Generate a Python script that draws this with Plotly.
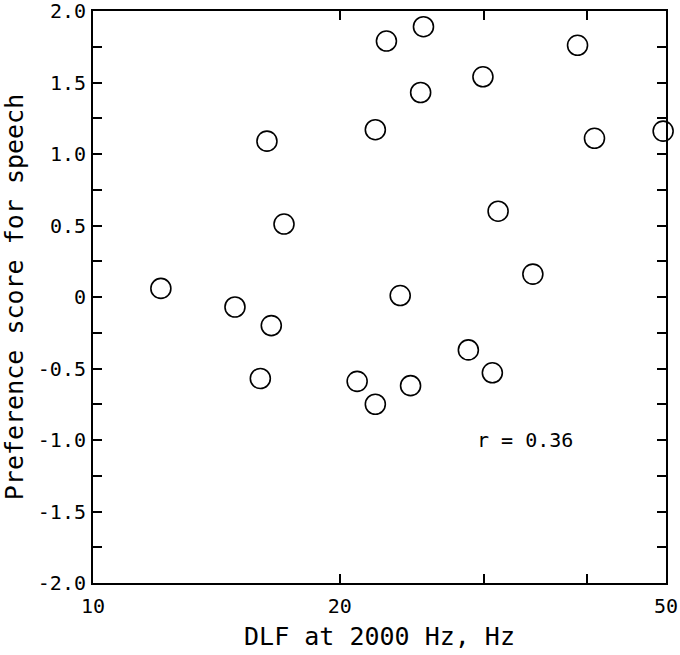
'''Preference score for speech vs DLF at 2000 Hz'''
import math
import plotly.graph_objects as go

# data
dlf = [12.1, 14.9, 16.0, 16.3, 16.5, 17.1, 21.0, 22.1, 22.1, 22.8, 23.7,
       24.4, 25.1, 25.3, 28.7, 29.9, 30.7, 31.2, 34.4, 39.0, 40.9, 49.6]
pref = [0.06, -0.07, -0.57, 1.09, -0.20, 0.51, -0.59, -0.75, 1.17, 1.79, 0.01,
        -0.62, 1.43, 1.89, -0.37, 1.54, -0.53, 0.60, 0.16, 1.76, 1.11, 1.16]

x_ticks = [10, 20, 30, 40, 50]
x_text = ["10", "20", "", "", "50"]
y_ticks = [-2.0 + 0.25 * i for i in range(17)]
y_text = []
for v in y_ticks:
    if abs(v * 2 - round(v * 2)) < 1e-9:
        y_text.append("0" if abs(v) < 1e-9 else "%.1f" % v)
    else:
        y_text.append("")

r_text = "r = 0.36"
r_pos = (29.2, -1.0)

FONT = "DejaVu Sans Mono"

fig = go.Figure()
fig.add_trace(go.Scatter(
    x=dlf, y=pref, mode="markers", cliponaxis=False,
    marker=dict(symbol="circle-open", size=20, color="black",
                line=dict(width=1.6, color="black")),
    showlegend=False,
))

# log axis: annotation x is given in log10 units
fig.add_annotation(x=math.log10(r_pos[0]), y=r_pos[1], xref="x", yref="y",
                   text=r_text, showarrow=False, xanchor="left",
                   yanchor="middle",
                   font=dict(family=FONT, size=20, color="black"))

axis_common = dict(
    showgrid=False, zeroline=False, showline=True, linecolor="black",
    linewidth=2, ticks="inside", ticklen=9, tickwidth=1.5, tickcolor="black",
    mirror="ticks", automargin=False, ticklabeloverflow="allow",
    tickfont=dict(family=FONT, size=20, color="black"),
)

fig.update_layout(
    width=680, height=655,
    paper_bgcolor="white", plot_bgcolor="white",
    margin=dict(l=93, r=14, t=11, b=72),
    xaxis=dict(type="log", range=[1, 1.69897], tickvals=x_ticks,
               ticktext=x_text, ticklabelstandoff=4,
               title=dict(text="DLF at 2000 Hz, Hz", standoff=10,
                          font=dict(family=FONT, size=25, color="black")),
               **axis_common),
    yaxis=dict(range=[-2, 2], tickvals=y_ticks, ticktext=y_text,
               ticklabelstandoff=1,
               title=dict(text="Preference score for speech", standoff=18,
                          font=dict(family=FONT, size=25, color="black")),
               **axis_common),
)

# drop the default body margin so the figure sits at the page corner
fig.write_html("out.html", config={"displayModeBar": False},
               post_script="document.body.style.margin='0px';")
